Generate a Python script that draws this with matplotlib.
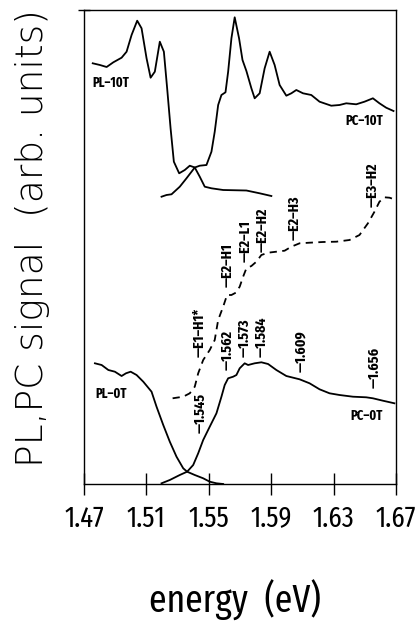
import os
import matplotlib
matplotlib.use("Agg")
import matplotlib.pyplot as plt
from matplotlib import font_manager
from matplotlib.font_manager import FontProperties
from matplotlib.textpath import TextToPath

# photoluminescence / photocurrent spectra, energies in eV, signal in arb. units
pl_10t_e = [1.4756, 1.4802, 1.4845, 1.4888, 1.4941, 1.4973, 1.5005, 1.5041, 1.5069,
            1.5101, 1.5127, 1.5154, 1.5186, 1.5212, 1.5233, 1.5255, 1.5276, 1.5310,
            1.5346, 1.5378, 1.5410, 1.5442, 1.5474, 1.5517, 1.5592, 1.5741, 1.5826, 1.5901]
pl_10t_s = [420.7, 419, 417, 421.7, 426.3, 432.3, 449, 463.3, 455.7,
            425.7, 406.3, 412.3, 442.3, 432.3, 395.7, 355.7, 322.3, 310.7,
            314, 318.3, 316.5, 307.3, 297.3, 295.7, 294, 293.5, 290.7, 288]

pc_10t_e = [1.5197, 1.5229, 1.5261, 1.5314, 1.5357, 1.5410, 1.5442, 1.5485, 1.5517,
            1.5538, 1.5560, 1.5581, 1.5607, 1.5624, 1.5645, 1.5666, 1.5694, 1.5716,
            1.5741, 1.5773, 1.5794, 1.5826, 1.5858, 1.5890, 1.5922, 1.5954, 1.5997,
            1.6029, 1.6061, 1.6104, 1.6157, 1.6210, 1.6285, 1.6338, 1.6381, 1.6445,
            1.6498, 1.6552, 1.6594, 1.6637, 1.6684]
pc_10t_s = [287.3, 289, 289.7, 297.3, 305.7, 316.5, 318.3, 319, 332.3,
            352.3, 379, 389, 391.7, 412.3, 445.7, 466.7, 445.7, 424,
            413, 395.7, 385.7, 390.7, 415.7, 432.3, 419, 399, 388.3,
            390.7, 394, 390.7, 389, 382.3, 378.3, 379, 380.7, 379.7,
            382.3, 385.7, 380.7, 376.3, 373]

pc_dash_e = [1.5268, 1.5336, 1.5378, 1.5410, 1.5432, 1.5464, 1.5506, 1.5538, 1.5560,
             1.5592, 1.5617, 1.5645, 1.5673, 1.5698, 1.5720, 1.5741, 1.5773, 1.5805,
             1.5837, 1.5880, 1.5933, 1.5986, 1.6029, 1.6082, 1.6146, 1.6232, 1.6317,
             1.6402, 1.6466, 1.6520, 1.6562, 1.6594, 1.6626, 1.6658, 1.6690]
pc_dash_s = [85.7, 87.3, 90.7, 97.3, 110.7, 124, 134, 144, 164,
             177.3, 189, 189, 191.3, 197.3, 207.3, 215.7, 218, 222.3,
             229, 231.3, 232.3, 233.3, 237.3, 240.7, 241.3, 242, 242.3,
             244, 249, 260.7, 272.3, 282.3, 286.7, 286.3, 284.7]

pl_0t_e = [1.4770, 1.4813, 1.4856, 1.4898, 1.4941, 1.4969, 1.4999, 1.5037, 1.5080,
           1.5133, 1.5165, 1.5208, 1.5250, 1.5293, 1.5336, 1.5361, 1.5410, 1.5464,
           1.5506, 1.5549, 1.5592]
pl_0t_s = [120.7, 119, 114, 112.3, 108, 110.7, 112.3, 109, 102.3,
           92.3, 77.3, 59, 42.3, 27.3, 15.7, 12.3, 9, 5.7,
           2.3, 0.7, 0]

pc_0t_e = [1.5197, 1.5250, 1.5314, 1.5361, 1.5400, 1.5432, 1.5464, 1.5506, 1.5549,
           1.5581, 1.5602, 1.5624, 1.5656, 1.5677, 1.5698, 1.5730, 1.5752, 1.5794,
           1.5837, 1.5880, 1.5933, 1.5997, 1.6082, 1.6146, 1.6210, 1.6274, 1.6338,
           1.6424, 1.6509, 1.6552, 1.6616, 1.6690]
pc_0t_s = [0.7, 4, 9, 12.3, 19, 30.7, 44, 57.3, 70.7,
           87.3, 99, 105.7, 107.3, 109, 115.7, 120.7, 119, 120.7,
           121.7, 120, 114, 108, 104.7, 100.7, 94.7, 90.7, 89,
           87.3, 86.7, 85.7, 83.3, 80.7]

# peak positions marked on the PC-0T curve
peak_e = [1.545, 1.562, 1.573, 1.584, 1.609, 1.656]
peak_s = [51, 114, 127, 127, 112, 96]

# transition assignments marked on the dashed curve
trans_names = ["E1\u2013H1*", "E2\u2013H1", "E2\u2013L1", "E2\u2013H2", "E2\u2013H3", "E3\u2013H2"]
trans_e = [1.5442, 1.5622, 1.5737, 1.5846, 1.6050, 1.6550]
trans_s = [127, 197, 222, 232, 244, 277]

xticks = [1.47, 1.51, 1.55, 1.59, 1.63, 1.67]

DPI = 100


def find_narrow(bold):
    # most condensed upright face that is installed
    best = None
    for f in font_manager.fontManager.ttflist:
        b = os.path.basename(f.fname).lower().replace("-", "").replace("_", "")
        if "italic" in b or "oblique" in b or "cjk" in b:
            continue
        isbold = "bold" in b and not any(w in b for w in ["semibold", "extrabold", "ultrabold"])
        if isbold != bold:
            continue
        if not bold and any(w in b for w in ["light", "thin", "medium", "semibold",
                                             "black", "extrabold", "heavy"]):
            continue
        if "extracondensed" in b or "ultracondensed" in b:
            rank = 0
        elif "semicondensed" in b:
            rank = 3
        elif "condensed" in b:
            rank = 1
        elif "narrow" in b:
            rank = 2
        else:
            continue
        key = (rank, "mono" in b, b)
        if best is None or key < best[0]:
            best = (key, f.fname)
    if best is None:
        return FontProperties(family="DejaVu Sans", weight="bold" if bold else "normal")
    return FontProperties(fname=best[1])


def fit_size(fp, text, width_px, max_size):
    # font size that makes `text` about width_px wide
    fp0 = fp.copy()
    fp0.set_size(10)
    w, h, d = TextToPath().get_text_width_height_descent(text, fp0, ismath=False)
    size = 10 * width_px / (w * DPI / 72)
    out = fp.copy()
    out.set_size(min(size, max_size))
    return out


reg = find_narrow(False)
bld = find_narrow(True)
tick_fp = fit_size(reg, "1.47", 40, 30)
xlab_fp = fit_size(reg, "energy  (eV)", 172, 42)
lab_fp = fit_size(bld, "PL\u201310T", 37, 10)
mark_fp = fit_size(bld, "\u20141.545", 40, 11)

fig = plt.figure(figsize=(4.15, 6.36), dpi=DPI)
ax = fig.add_axes([84 / 415, 1 - 484 / 636, 312 / 415, 474 / 636])

lw = 1.3
ax.plot(pl_10t_e, pl_10t_s, color="black", lw=lw)
ax.plot(pc_10t_e, pc_10t_s, color="black", lw=lw)
ax.plot(pl_0t_e, pl_0t_s, color="black", lw=lw)
ax.plot(pc_0t_e, pc_0t_s, color="black", lw=lw)
ax.plot(pc_dash_e, pc_dash_s, color="black", lw=lw, linestyle=(0, (4, 3)))

ax.set_xlim(1.47, 1.67)
ax.set_ylim(0, 474)

for sp in ax.spines.values():
    sp.set_linewidth(1.0)

ax.set_xticks(xticks)
ax.set_xticklabels([f"{t:.2f}" for t in xticks])
for t in ax.get_xticklabels():
    t.set_fontproperties(tick_fp)
ax.tick_params(axis="x", direction="inout", length=16, width=1.0, pad=7)
ax.set_yticks([474])
ax.set_yticklabels([])
ax.tick_params(axis="y", direction="inout", length=8, width=1.0)

ax.text(1.4751, 401, "PL\u201310T", ha="left", va="center", fontproperties=lab_fp)
ax.text(1.6620, 363, "PC\u201310T", ha="right", va="center", fontproperties=lab_fp)
ax.text(1.4770, 90, "PL\u20130T", ha="left", va="center", fontproperties=lab_fp)
ax.text(1.6614, 68, "PC\u20130T", ha="right", va="center", fontproperties=lab_fp)

for e, s in zip(peak_e, peak_s):
    ax.text(e, s, f"\u2014{e:.3f}", rotation=90, ha="center", va="bottom",
            fontproperties=mark_fp)

for name, e, s in zip(trans_names, trans_e, trans_s):
    ax.text(e, s, "\u2014" + name, rotation=90, ha="center", va="bottom",
            fontproperties=mark_fp)

fig.text(235 / 415, 1 - 600 / 636, "energy  (eV)", ha="center", va="center",
         fontproperties=xlab_fp)
fig.text(33 / 415, 1 - 238 / 636, "PL,PC signal  (arb. units)", rotation=90,
         ha="center", va="center", fontsize=27, fontweight="light")

fig.savefig("out.png", dpi=DPI)
